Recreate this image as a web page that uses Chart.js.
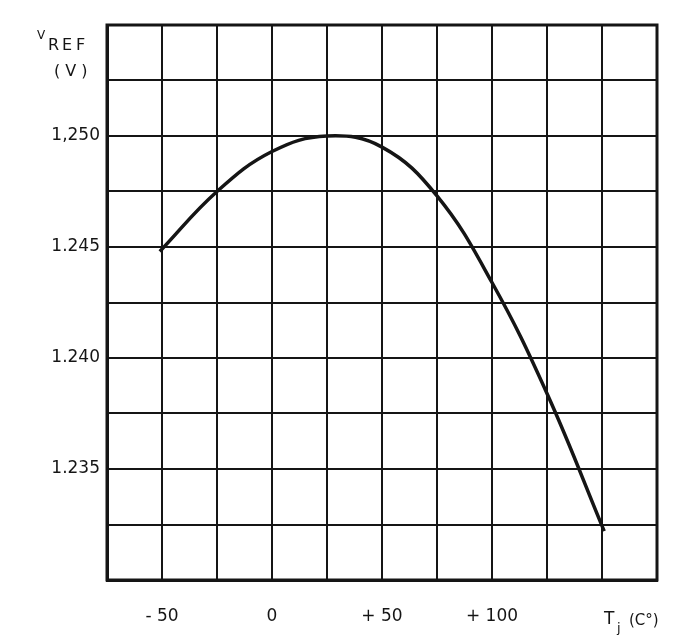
<!DOCTYPE html>
<html>
<head>
<meta charset="utf-8">
<script src="https://cdn.jsdelivr.net/npm/chart.js@4.4.1/dist/chart.umd.min.js"></script>
<style>
  html, body { margin: 0; padding: 0; background: #fff; }
  #wrap { width: 688px; height: 641px; }
</style>
</head>
<body>
<div id="wrap"><canvas id="myChart"></canvas></div>
<script>
// data
const temps = [-51, -25, 0, 25, 50, 75, 100, 125, 151];
const vref  = [1.2448, 1.2475, 1.2493, 1.2500, 1.2495, 1.2473, 1.2434, 1.2384, 1.2322];

// tick labels that are printed
const xTickLabels = { '-50': '- 50', '0': '0', '50': '+ 50', '100': '+ 100' };
const yTickLabels = [[1.250, '1,250'], [1.245, '1.245'], [1.240, '1.240'], [1.235, '1.235']];

const ink = '#151515';
const font = 'DejaVu Sans';

// axis titles drawn on the canvas
const axisTitles = {
  id: 'axisTitles',
  afterDraw(chart) {
    const ctx = chart.ctx;
    ctx.save();
    ctx.fillStyle = ink;
    ctx.textBaseline = 'alphabetic';
    ctx.textAlign = 'left';
    ctx.font = '12px ' + font;
    ctx.fillText('V', 37, 39);
    ctx.font = '16px ' + font;
    ctx.fillText('R', 48, 50);
    ctx.fillText('E', 62, 50);
    ctx.fillText('F', 76, 50);
    ctx.fillText('( V )', 54, 76);
    ctx.font = '17px ' + font;
    ctx.fillText('T', 604, 624);
    ctx.font = '13px ' + font;
    ctx.fillText('j', 617, 632);
    ctx.font = '15px ' + font;
    ctx.fillText('(C°)', 629, 625);
    ctx.restore();
  }
};

// closed frame round the plot
const frame = {
  id: 'frame',
  afterDraw(chart) {
    const a = chart.chartArea, ctx = chart.ctx;
    ctx.save();
    ctx.strokeStyle = ink;
    ctx.lineWidth = 3;
    ctx.strokeRect(a.left, a.top, a.right - a.left, a.bottom - a.top);
    ctx.restore();
  }
};

const data = {
  datasets: [{
    label: 'VREF',
    data: temps.map((t, i) => ({ x: t, y: vref[i] })),
    borderColor: ink,
    borderWidth: 3.5,
    pointRadius: 0,
    fill: false,
    tension: 0.4
  }]
};

const config = {
  type: 'line',
  data,
  options: {
    responsive: false,
    animation: false,
    layout: { padding: { left: 0, right: 31, top: 25, bottom: 0 } },
    plugins: { legend: { display: false }, tooltip: { enabled: false } },
    scales: {
      x: {
        type: 'linear',
        min: -75,
        max: 175,
        afterBuildTicks(scale) {
          const t = [];
          for (let v = -75; v <= 175; v += 25) t.push({ value: v });
          scale.ticks = t;
        },
        afterFit(scale) { scale.height = 61; },
        grid: { color: ink, lineWidth: 2, drawTicks: false },
        border: { color: ink, width: 3 },
        ticks: {
          autoSkip: false,
          maxRotation: 0,
          padding: 26,
          color: ink,
          font: { family: font, size: 17 },
          callback: v => xTickLabels[String(v)] || ''
        }
      },
      y: {
        type: 'linear',
        min: 1.230,
        max: 1.255,
        afterBuildTicks(scale) {
          const t = [];
          for (let i = 0; i <= 10; i++) t.push({ value: 1.230 + i * 0.0025 });
          scale.ticks = t;
        },
        afterFit(scale) { scale.width = 107; },
        grid: { color: ink, lineWidth: 2, drawTicks: false },
        border: { color: ink, width: 3 },
        ticks: {
          autoSkip: false,
          padding: 7,
          color: ink,
          font: { family: font, size: 17 },
          callback: v => {
            const hit = yTickLabels.find(p => Math.abs(p[0] - v) < 1e-6);
            return hit ? hit[1] : '';
          }
        }
      }
    }
  },
  plugins: [axisTitles, frame]
};

const canvas = document.getElementById('myChart');
canvas.width = 688;
canvas.height = 641;
const myChart = new Chart(canvas, config);
</script>
</body>
</html>
